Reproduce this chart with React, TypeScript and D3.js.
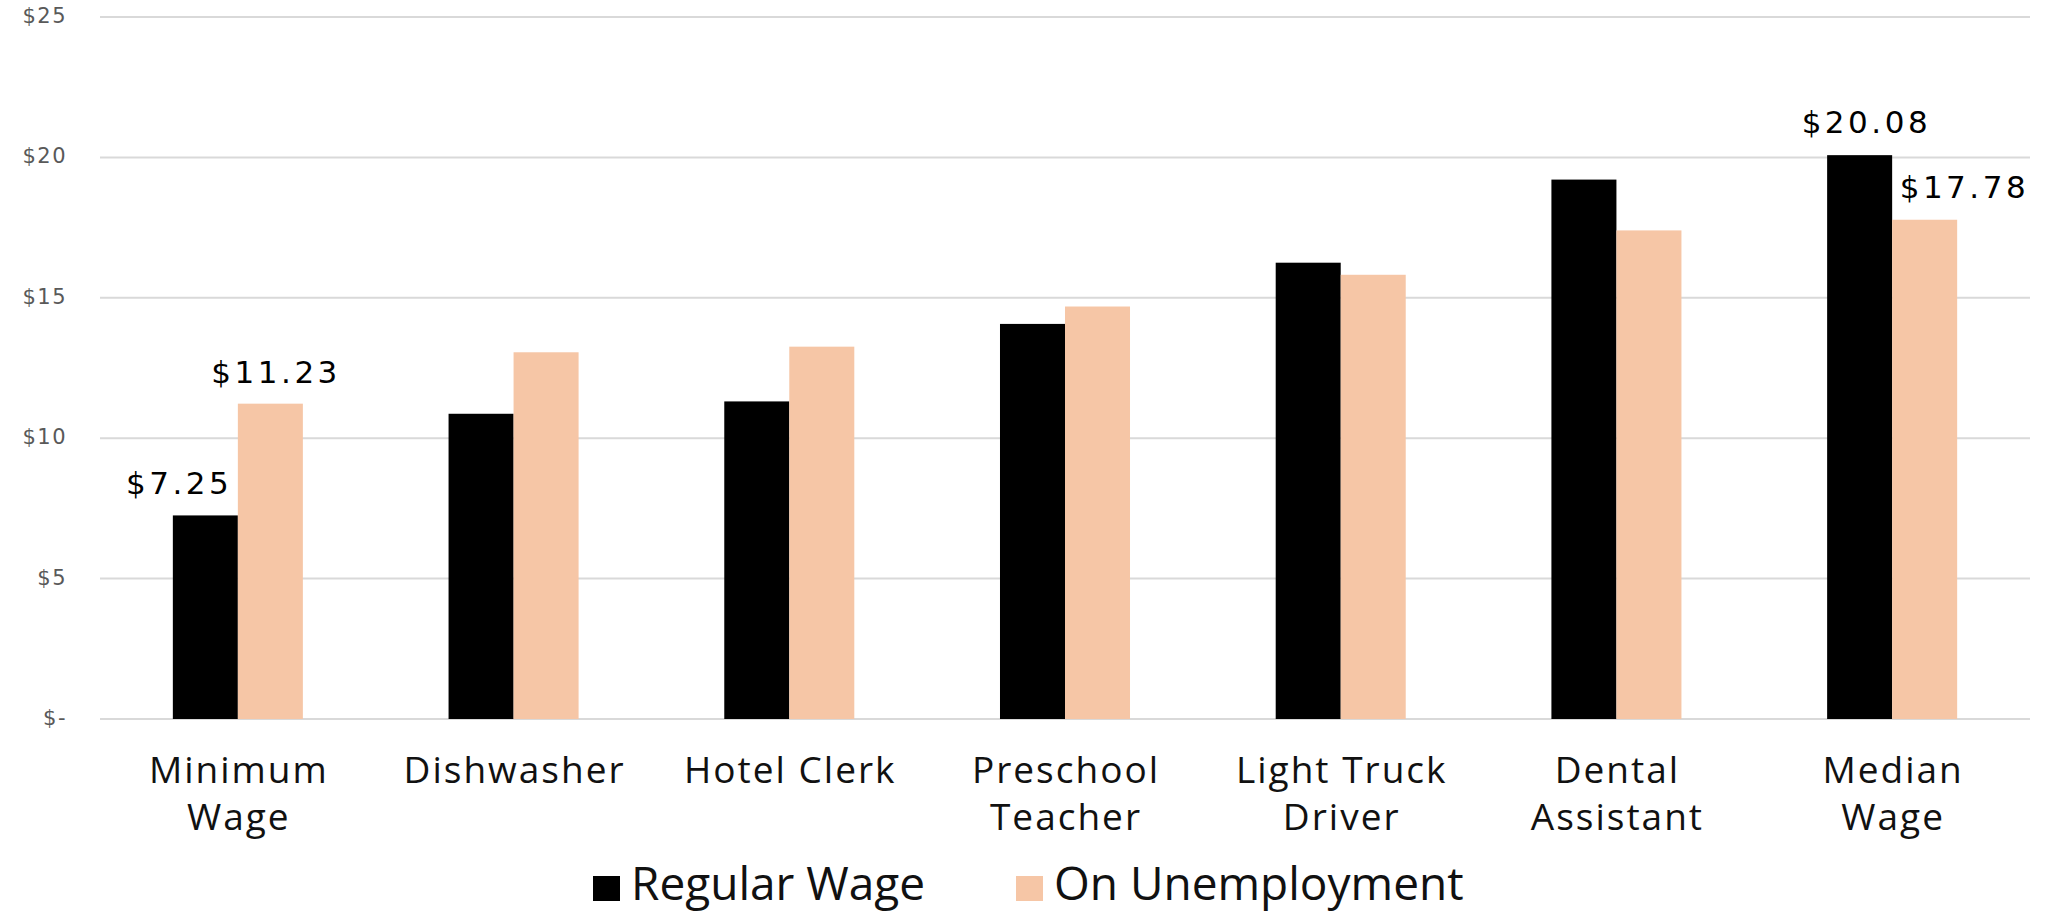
import React from "react";
import * as d3 from "d3";

const categories: string[][] = [
  ["Minimum", "Wage"],
  ["Dishwasher"],
  ["Hotel Clerk"],
  ["Preschool", "Teacher"],
  ["Light Truck", "Driver"],
  ["Dental", "Assistant"],
  ["Median", "Wage"],
];
const categoryKeys = categories.map((c) => c.join(" "));
const seriesNames = ["Regular Wage", "On Unemployment"];
const regularWage = [7.25, 10.87, 11.31, 14.07, 16.25, 19.21, 20.08];
const onUnemployment = [11.23, 13.06, 13.26, 14.69, 15.82, 17.4, 17.78];
const yTicks = [0, 5, 10, 15, 20, 25];
const yTickLabels = ["$-", "$5", "$10", "$15", "$20", "$25"];

// labelled bars: [series index, category index, dx, dy]
const dataLabels: [number, number, number, number][] = [
  [0, 0, -28, -21],
  [1, 0, 4, -21],
  [0, 6, 5, -22],
  [1, 6, 38, -22],
];

const W = 2051;
const H = 914;
const COLORS = ["#000000", "#F6C6A6"];

export default function App() {
  const x = d3.scaleBand<string>().domain(categoryKeys).range([100, 2030]).padding(0);
  const y = d3.scaleLinear().domain([0, 25]).range([719, 17]);
  const groupW = x.bandwidth() * 0.4716;
  const x1 = d3.scaleBand<string>().domain(seriesNames).range([0, groupW]).padding(0);
  const series = [regularWage, onUnemployment];
  const ls = 3.5;

  return (
    <svg
      width={W}
      height={H}
      style={{ position: "absolute", left: 0, top: 0, display: "block", background: "#fff" }}
    >
      {yTicks.map((t, i) => (
        <g key={t}>
          <line x1={100} x2={2030} y1={y(t)} y2={y(t)} stroke="#d9d9d9" strokeWidth={2} />
          <text
            x={67}
            y={y(t)}
            textAnchor="end"
            dominantBaseline="middle"
            fontFamily="DejaVu Sans"
            fontSize={21}
            letterSpacing={1.5}
            fill="#595959"
          >
            {yTickLabels[i]}
          </text>
        </g>
      ))}
      {categoryKeys.map((c, ci) => {
        const gx = (x(c) as number) + x.bandwidth() / 2 - groupW / 2;
        return (
          <g key={c}>
            {series.map((vals, si) => (
              <rect
                key={si}
                x={gx + (x1(seriesNames[si]) as number)}
                y={y(vals[ci])}
                width={x1.bandwidth()}
                height={y(0) - y(vals[ci])}
                fill={COLORS[si]}
              />
            ))}
          </g>
        );
      })}
      {dataLabels.map(([si, ci, dx, dy]) => {
        const c = categoryKeys[ci];
        const gx = (x(c) as number) + x.bandwidth() / 2 - groupW / 2;
        const cx = gx + (x1(seriesNames[si]) as number) + x1.bandwidth() / 2;
        const v = series[si][ci];
        return (
          <text
            key={`${si}-${ci}`}
            x={cx + dx + ls / 2}
            y={y(v) + dy}
            textAnchor="middle"
            fontFamily="DejaVu Sans"
            fontSize={31}
            letterSpacing={ls}
            fill="#000"
          >
            {"$" + v.toFixed(2)}
          </text>
        );
      })}
      {categories.map((lines, ci) => {
        const cx = (x(categoryKeys[ci]) as number) + x.bandwidth() / 2;
        return (
          <text
            key={ci}
            textAnchor="middle"
            fontFamily="Open Sans"
            fontSize={37}
            letterSpacing={2}
            fill="#111"
          >
            {lines.map((l, li) => (
              <tspan key={li} x={cx + 1} y={783 + li * 47}>
                {l}
              </tspan>
            ))}
          </text>
        );
      })}
      {/* legend */}
      {seriesNames.map((s, i) => {
        const lx = i === 0 ? 593 : 1016;
        return (
          <g key={s}>
            <rect x={lx} y={876} width={27} height={25} fill={COLORS[i]} />
            <text x={lx + 38} y={900} fontFamily="Open Sans" fontSize={46} fill="#111">
              {s}
            </text>
          </g>
        );
      })}
    </svg>
  );
}
